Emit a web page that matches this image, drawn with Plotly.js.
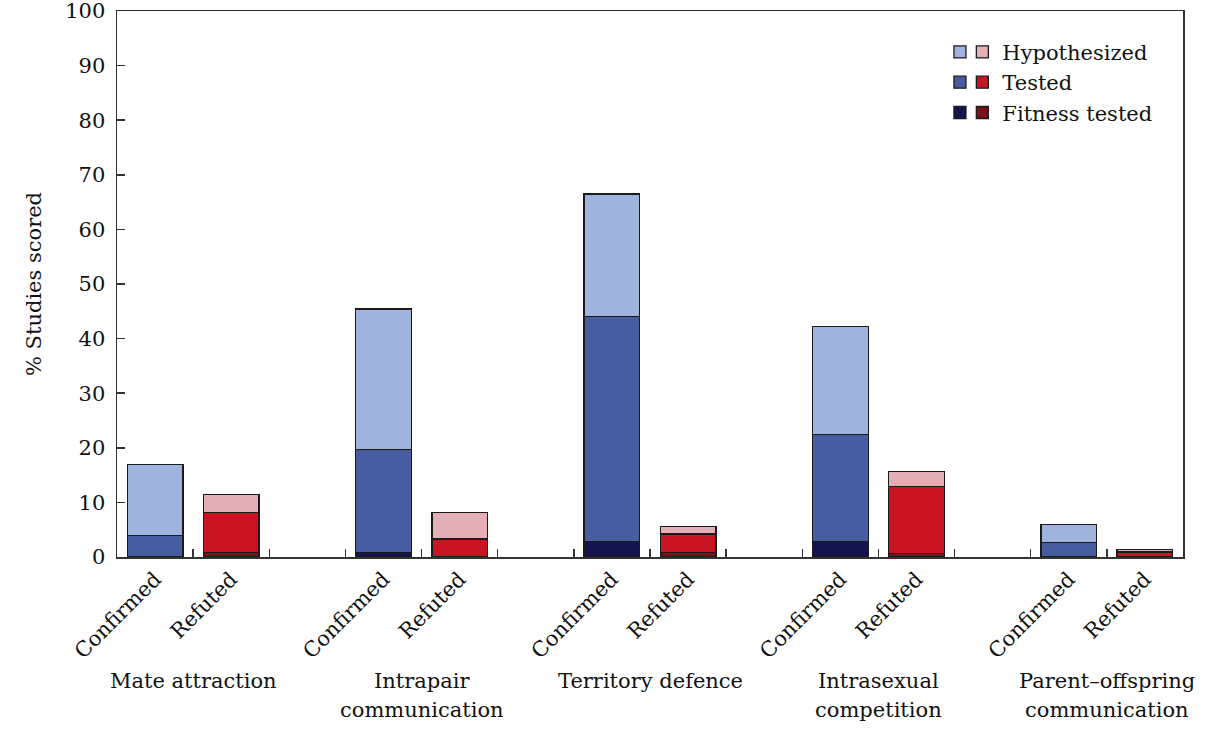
<!DOCTYPE html>
<html>
<head>
<meta charset="utf-8">
<script src="https://cdn.plot.ly/plotly-3.0.1.min.js"></script>
<style>html,body{margin:0;padding:0;background:#fff;}#chart{width:1215px;height:736px;}</style>
</head>
<body>
<div id="chart"></div>
<script>
// Categories (groups)
const groups = ["Mate attraction", "Intrapair<br>communication", "Territory defence", "Intrasexual<br>competition", "Parent–offspring<br>communication"];
const outcomeLabels = ["Confirmed", "Refuted"];
// Cumulative % of studies (Hypothesized includes Tested, Tested includes Fitness tested)
const confHypothesized = [17.0, 45.4, 66.5, 42.2, 6.0];
const confTested       = [4.0, 19.7, 44.0, 22.4, 2.7];
const confFitness      = [0.0, 0.8, 2.8, 2.8, 0.0];
const refHypothesized  = [11.4, 8.1, 5.6, 15.6, 1.4];
const refTested        = [8.2, 3.3, 4.2, 12.9, 0.9];
const refFitness       = [0.8, 0.0, 0.8, 0.7, 0.0];
const yTicks = [0, 10, 20, 30, 40, 50, 60, 70, 80, 90, 100];

const FONT = "DejaVu Serif, Liberation Serif, serif";
const FS = 21;
const nG = groups.length;
const confX = groups.map((g, i) => i * 3);
const refX = groups.map((g, i) => i * 3 + 1);
const diff = (a, b) => a.map((v, i) => Math.max(0, +(v - b[i]).toFixed(2)));

const line = {color: "#1a1a1a", width: 1.3};
function bar(x, y, color, name, legend, showName) {
  return {type: "bar", x: x, y: y, name: showName ? name : "", legend: legend,
    marker: {color: color, line: line}, width: 0.73, hoverinfo: "y", showlegend: true};
}
const traces = [
  bar(confX, confFitness, "#14144e", "Fitness tested", "legend", false),
  bar(confX, diff(confTested, confFitness), "#465da0", "Tested", "legend", false),
  bar(confX, diff(confHypothesized, confTested), "#a0b3dd", "Hypothesized", "legend", false),
  bar(refX, refFitness, "#7a1119", "Fitness tested", "legend2", true),
  bar(refX, diff(refTested, refFitness), "#c81423", "Tested", "legend2", true),
  bar(refX, diff(refHypothesized, refTested), "#e3afb5", "Hypothesized", "legend2", true),
];

// boundaries between bar slots
const slotEdges = [];
for (let k = -0.5; k <= nG * 3 - 1.5 + 0.01; k += 1) slotEdges.push(k);
const labelVals = [], labelText = [];
groups.forEach((g, i) => { labelVals.push(confX[i], refX[i]); labelText.push(outcomeLabels[0], outcomeLabels[1]); });

const xr = [-0.5, nG * 3 - 1.5];
const M = {l: 117, r: 32, t: 11, b: 179};
const plotH = 736 - M.t - M.b;
const annotations = [];
groups.forEach((g, i) => {
  g.split("<br>").forEach((ln, j) => {
    annotations.push({
      text: ln, x: i * 3 + 0.5, xref: "x", y: -(124 + 29 * j) / plotH, yref: "paper",
      xanchor: "center", yanchor: "middle", showarrow: false,
      font: {family: FONT, size: FS, color: "#111"}
    });
  });
});

const legendCommon = {font: {family: FONT, size: FS, color: "#111"}, bgcolor: "rgba(0,0,0,0)",
  yanchor: "top", y: 0.962, xanchor: "left", tracegroupgap: 0, itemclick: false};

const layout = {
  width: 1215, height: 736,
  margin: M,
  paper_bgcolor: "#fff", plot_bgcolor: "#fff",
  barmode: "stack",
  font: {family: FONT, size: FS, color: "#111"},
  xaxis: {range: xr, tickvals: labelVals, ticktext: labelText, tickangle: -45, ticks: "",
    showgrid: false, zeroline: false, showline: true, linecolor: "#333", linewidth: 1.5, mirror: true,
    tickfont: {family: FONT, size: FS, color: "#111"}},
  xaxis2: {range: xr, overlaying: "x", anchor: "y", side: "bottom", tickvals: slotEdges, showticklabels: false,
    ticks: "inside", ticklen: 8, tickwidth: 1.5, tickcolor: "#333", showgrid: false, zeroline: false, showline: false},
  yaxis: {range: [0, 100], tickvals: yTicks, ticks: "inside", ticklen: 8, tickwidth: 1.5, tickcolor: "#333",
    showgrid: false, zeroline: false, showline: true, linecolor: "#333", linewidth: 1.5, mirror: true,
    ticklabelstandoff: 6, ticklabeloverflow: "allow", tickfont: {family: FONT, size: FS, color: "#111"},
    title: {text: "% Studies scored", font: {family: FONT, size: FS, color: "#111"}, standoff: 18}},
  legend: Object.assign({}, legendCommon, {x: 0.772}),
  legend2: Object.assign({}, legendCommon, {x: 0.793}),
  annotations: annotations,
  showlegend: true
};

// dummy trace to activate xaxis2
traces.push({type: "scatter", x: [], y: [], xaxis: "x2", yaxis: "y", showlegend: false, hoverinfo: "skip"});

Plotly.newPlot("chart", traces, layout, {displayModeBar: false, staticPlot: true});
</script>
</body>
</html>
